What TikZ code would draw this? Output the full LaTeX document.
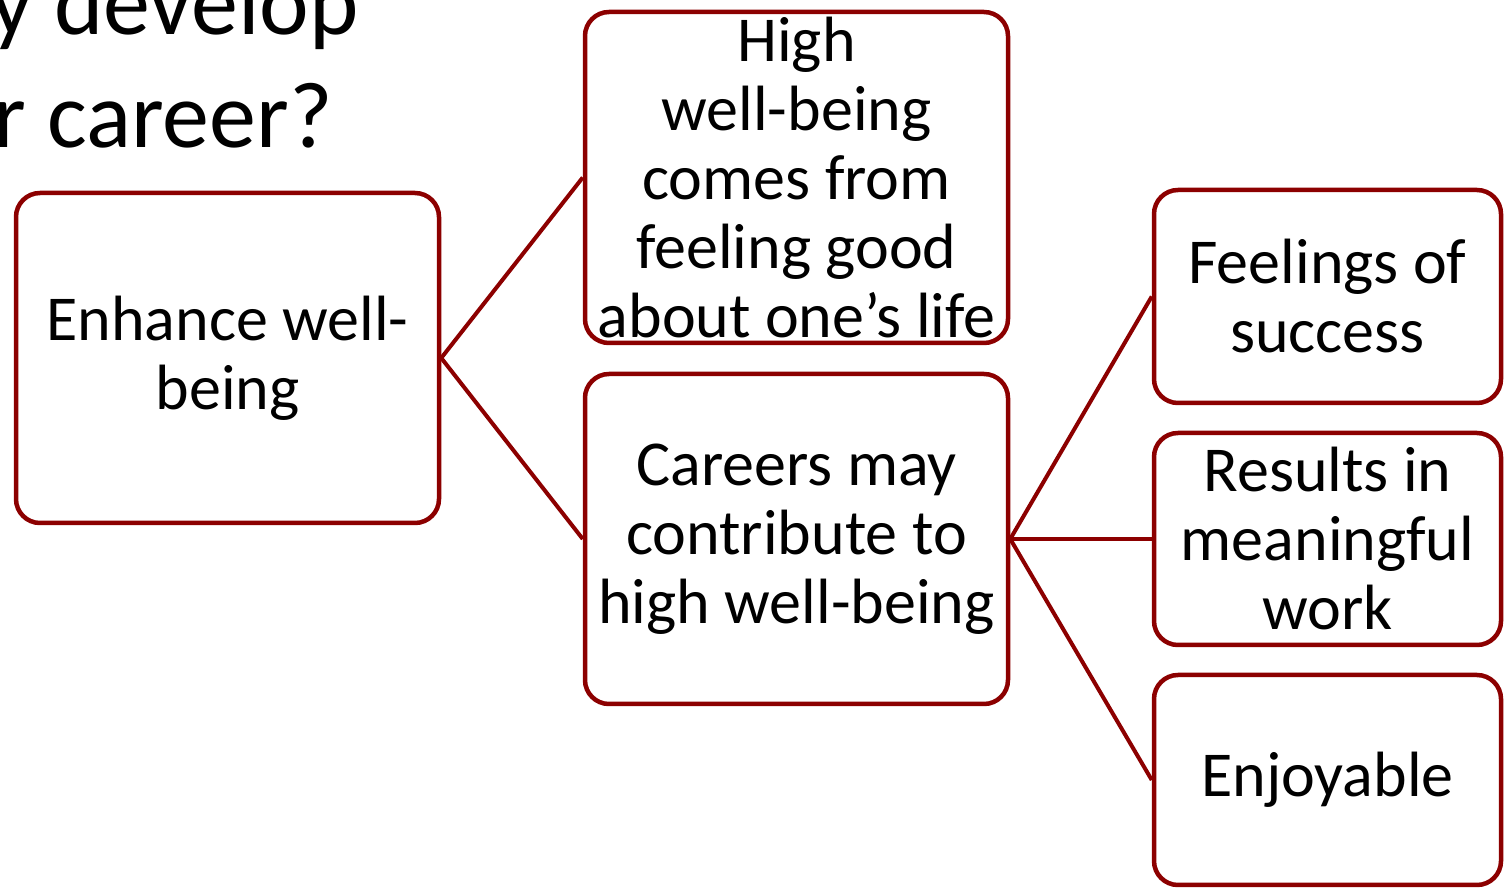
\documentclass[tikz,border=0pt]{standalone}
\usepackage{fontspec}
\setmainfont{Carlito}
\definecolor{boxred}{RGB}{140,0,0}
\begin{document}
\begin{tikzpicture}[x=1pt,y=1pt,
  box/.style={draw=boxred, line width=4.5pt, rounded corners=24pt, fill=white,
    inner sep=0pt, align=center, font=\fontsize{64}{69}\selectfont},
  link/.style={draw=boxred, line width=4pt},
  title/.style={font=\fontsize{94}{112}\selectfont, inner sep=0pt, anchor=base west}]
\useasboundingbox (0,0) rectangle (1505,889);
\node[title] (t1) at (-10,854) {y develop};
\node[title] (t2) at (-7,741) {r career?};
\node[box, minimum width=423pt, minimum height=330pt] (A) at (227.5,531) {Enhance well-\\being};
\node[box, minimum width=423pt, minimum height=331pt] (B) at (796.5,711.5) {High\\well-being\\comes from\\feeling good\\about one’s life};
\node[box, minimum width=423pt, minimum height=330pt] (C) at (796.5,350) {Careers may\\contribute to\\high well-being};
\node[box, minimum width=347pt, minimum height=213pt] (D) at (1327.5,592.5) {Feelings of\\success};
\node[box, minimum width=347pt, minimum height=212pt] (E) at (1327.5,350) {Results in\\meaningful\\work};
\node[box, minimum width=347pt, minimum height=210pt] (F) at (1327.5,109) {Enjoyable};
\draw[link] (A.east) -- (B.west);
\draw[link] (A.east) -- (C.west);
\draw[link] (C.east) -- (D.west);
\draw[link] (C.east) -- (E.west);
\draw[link] (C.east) -- (F.west);
\end{tikzpicture}
\end{document}
